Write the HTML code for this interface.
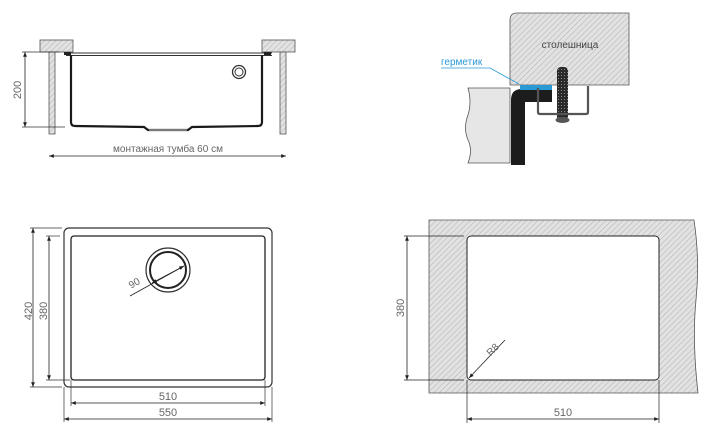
<!DOCTYPE html>
<html><head><meta charset="utf-8"><style>
html,body{margin:0;padding:0;background:#fff;}
svg{display:block;}
text{font-family:"Liberation Sans",sans-serif;fill:#666;}
</style></head><body>
<svg width="716" height="436" viewBox="0 0 716 436" xmlns="http://www.w3.org/2000/svg">
<defs>
<pattern id="h" width="4" height="4" patternUnits="userSpaceOnUse" patternTransform="rotate(45)">
<rect width="4" height="4" fill="#e2e2e2"/><line x1="0" y1="0" x2="0" y2="4" stroke="#b8b8b8" stroke-width="1.2"/>
</pattern>
<pattern id="k" width="3" height="3" patternUnits="userSpaceOnUse">
<rect width="3" height="3" fill="#2a2a2a"/><rect width="1" height="1" fill="#888"/>
</pattern>
<marker id="a" viewBox="0 0 10 10" refX="10" refY="5" markerWidth="6" markerHeight="6" orient="auto-start-reverse"><path d="M0,1 L10,5 L0,9z" fill="#222"/></marker>
</defs>

<!-- top-left side view -->
<rect x="40" y="40" width="33" height="12" fill="url(#h)" stroke="#555" stroke-width="0.8"/>
<rect x="262" y="40" width="33" height="12" fill="url(#h)" stroke="#555" stroke-width="0.8"/>
<rect x="49" y="52" width="6" height="82" fill="url(#h)" stroke="#555" stroke-width="0.8"/>
<rect x="280" y="52" width="6" height="82" fill="url(#h)" stroke="#555" stroke-width="0.8"/>
<line x1="66" y1="53" x2="272" y2="53" stroke="#333" stroke-width="1"/>
<line x1="66" y1="55.5" x2="272" y2="55.5" stroke="#333" stroke-width="1"/>
<rect x="64" y="52" width="7" height="3" fill="#222"/>
<rect x="264" y="52" width="7" height="3" fill="#222"/>
<path d="M71,55 L71,122 Q71,126 75,126 L144,127 L148,130 L188,130 L192,127 L258,126 Q262,126 262,122 L262,55" fill="none" stroke="#1a1a1a" stroke-width="2.2"/>
<line x1="149" y1="130" x2="187" y2="130" stroke="#999" stroke-width="1.5"/>
<circle cx="239" cy="72" r="6.5" fill="none" stroke="#333" stroke-width="1.3"/>
<circle cx="239" cy="72" r="4" fill="none" stroke="#333" stroke-width="1"/>
<line x1="22" y1="52" x2="60" y2="52" stroke="#333" stroke-width="0.7"/>
<line x1="22" y1="127" x2="65" y2="127" stroke="#333" stroke-width="0.7"/>
<line x1="25" y1="52" x2="25" y2="127" stroke="#222" stroke-width="0.8" marker-start="url(#a)" marker-end="url(#a)"/>
<text x="0" y="0" font-size="11" transform="translate(21,90) rotate(-90)" text-anchor="middle">200</text>
<line x1="49" y1="156" x2="286" y2="156" stroke="#222" stroke-width="0.8" marker-start="url(#a)" marker-end="url(#a)"/>
<text x="168" y="152" font-size="10" text-anchor="middle">монтажная тумба 60 см</text>

<!-- top-right detail -->
<path d="M517,13 L629,13 L629,85 L510,85 L510,20 Q510,13 517,13z" fill="url(#h)" stroke="#555" stroke-width="0.8"/>
<text x="570" y="48" font-size="10" text-anchor="middle" style="fill:#444">столешница</text>
<path d="M468,88 L510,88 L510,163 L468,163 Q473,150 468,140 Q463,128 468,115 Q472,102 468,88z" fill="#e6e6e6" stroke="#555" stroke-width="0.8"/>
<path d="M511,165 L511,100 Q511,89 522,89 L552,89 L552,102 L525,102 L525,165z" fill="#1c1c1c"/>
<rect x="520" y="85" width="32" height="5" fill="#2a9ad6"/>
<rect x="557" y="67" width="11" height="54" rx="4" fill="url(#k)"/>
<path d="M538,88 L538,112 Q538,114 540,114 L586,114 Q588,114 588,112 L588,86" fill="none" stroke="#555" stroke-width="2.2"/>
<ellipse cx="562.5" cy="120" rx="7" ry="3" fill="#555"/>
<text x="441" y="65" font-size="10" style="fill:#2a9ad6">герметик</text>
<path d="M441,68 L490,68 L519,84" fill="none" stroke="#2a9ad6" stroke-width="0.8"/>

<!-- bottom-left -->
<rect x="64" y="228" width="208" height="159" rx="5" fill="none" stroke="#333" stroke-width="1.2"/>
<rect x="71" y="236" width="194" height="144" rx="3" fill="none" stroke="#222" stroke-width="1.3"/>
<circle cx="168" cy="270" r="22" fill="none" stroke="#333" stroke-width="1.2"/>
<circle cx="168" cy="270" r="18" fill="none" stroke="#222" stroke-width="2"/>
<line x1="130" y1="296" x2="184" y2="266" stroke="#222" stroke-width="0.8"/>
<line x1="152" y1="283" x2="184" y2="266" stroke="#222" stroke-width="0.8" marker-start="url(#a)" marker-end="url(#a)"/>
<text font-size="10" transform="translate(136,286) rotate(-30)" text-anchor="middle">90</text>
<line x1="30" y1="228" x2="62" y2="228" stroke="#333" stroke-width="0.7"/>
<line x1="30" y1="387" x2="62" y2="387" stroke="#333" stroke-width="0.7"/>
<line x1="33" y1="228" x2="33" y2="387" stroke="#222" stroke-width="0.8" marker-start="url(#a)" marker-end="url(#a)"/>
<line x1="46" y1="236" x2="60" y2="236" stroke="#333" stroke-width="0.7"/>
<line x1="46" y1="380" x2="70" y2="380" stroke="#333" stroke-width="0.7"/>
<line x1="49" y1="236" x2="49" y2="380" stroke="#222" stroke-width="0.8" marker-start="url(#a)" marker-end="url(#a)"/>
<text font-size="11" transform="translate(32,311) rotate(-90)" text-anchor="middle">420</text>
<text font-size="11" transform="translate(47,311) rotate(-90)" text-anchor="middle">380</text>
<line x1="64" y1="387" x2="64" y2="422" stroke="#333" stroke-width="0.7"/>
<line x1="272" y1="387" x2="272" y2="422" stroke="#333" stroke-width="0.7"/>
<line x1="71" y1="380" x2="71" y2="406" stroke="#333" stroke-width="0.7"/>
<line x1="265" y1="380" x2="265" y2="406" stroke="#333" stroke-width="0.7"/>
<line x1="71" y1="403" x2="265" y2="403" stroke="#222" stroke-width="0.8" marker-start="url(#a)" marker-end="url(#a)"/>
<line x1="64" y1="419" x2="272" y2="419" stroke="#222" stroke-width="0.8" marker-start="url(#a)" marker-end="url(#a)"/>
<text x="168" y="400" font-size="11" text-anchor="middle">510</text>
<text x="168" y="416" font-size="11" text-anchor="middle">550</text>

<!-- bottom-right -->
<path d="M429,220 L694,220 Q700,260 696,300 Q692,340 698,393 L429,393z" fill="url(#h)" stroke="#555" stroke-width="0.8"/>
<rect x="467" y="236" width="192" height="144" rx="4" fill="#fff" stroke="#222" stroke-width="1"/>
<line x1="404" y1="236" x2="464" y2="236" stroke="#222" stroke-width="0.7"/>
<line x1="404" y1="380" x2="464" y2="380" stroke="#222" stroke-width="0.7"/>
<line x1="407" y1="236" x2="407" y2="380" stroke="#222" stroke-width="0.8" marker-start="url(#a)" marker-end="url(#a)"/>
<text font-size="11" transform="translate(404,308) rotate(-90)" text-anchor="middle">380</text>
<line x1="467" y1="380" x2="467" y2="423" stroke="#222" stroke-width="0.7"/>
<line x1="659" y1="380" x2="659" y2="423" stroke="#222" stroke-width="0.7"/>
<line x1="467" y1="419" x2="659" y2="419" stroke="#222" stroke-width="0.8" marker-start="url(#a)" marker-end="url(#a)"/>
<text x="563" y="416" font-size="11" text-anchor="middle">510</text>
<line x1="505" y1="340" x2="469" y2="378" stroke="#222" stroke-width="0.8" marker-end="url(#a)"/>
<text font-size="10" transform="translate(495,352) rotate(-45)" text-anchor="middle">R8</text>
</svg>
</body></html>
